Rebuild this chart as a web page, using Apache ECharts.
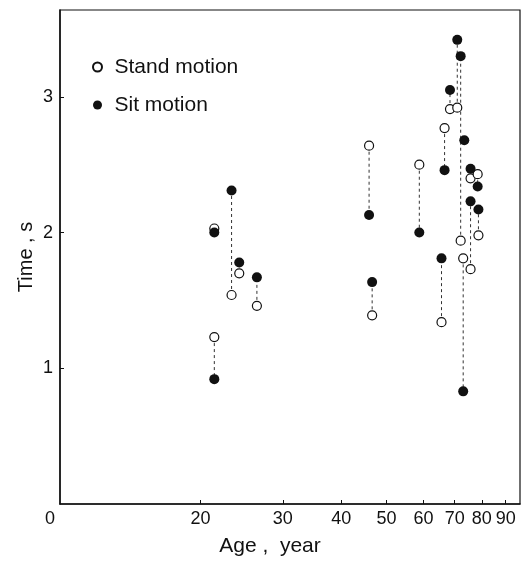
<!DOCTYPE html>
<html>
<head>
<meta charset="utf-8">
<script src="https://cdn.jsdelivr.net/npm/echarts@6/dist/echarts.min.js"></script>
<style>
html,body{margin:0;padding:0;background:#fff;}
#chart{width:522px;height:562px;}
</style>
</head>
<body>
<div id="chart"></div>
<script>
// Subjects: age (years), stand-motion time (s), sit-motion time (s)
const ages       = [21.4, 21.4, 23.3, 24.2, 26.4, 45.9, 46.6, 58.8, 65.6, 66.6, 68.4, 70.9, 72.1, 73.0, 73.4, 75.7, 75.7, 78.4, 78.7];
const standTimes = [2.03, 1.23, 1.54, 1.70, 1.46, 2.64, 1.39, 2.50, 1.34, 2.77, 2.91, 2.92, 1.94, 1.81, null, 2.40, 1.73, 2.43, 1.98];
const sitTimes   = [2.00, 0.92, 2.31, 1.78, 1.67, 2.13, 1.635, 2.00, 1.81, 2.46, 3.05, 3.42, 3.30, 0.83, 2.68, 2.47, 2.23, 2.34, 2.17];
const xTickValues = [10, 20, 30, 40, 50, 60, 70, 80, 90];
const yTickValues = [0, 1, 2, 3];
const seriesNames = ['Stand motion', 'Sit motion'];

const FONT = 'Liberation Sans';
const standData = ages.map((a, i) => [a, standTimes[i]]).filter(d => d[1] != null);
const sitData = ages.map((a, i) => [a, sitTimes[i]]).filter(d => d[1] != null);
const pairData = ages.map((a, i) => [a, standTimes[i] == null ? '-' : standTimes[i], sitTimes[i]]);

const chart = echarts.init(document.getElementById('chart'), null, {renderer: 'canvas'});
chart.setOption({
  animation: false,
  backgroundColor: '#fff',
  grid: {left: 60, right: 2, top: 10, bottom: 55, show: true, borderColor: '#111', borderWidth: 1.2, backgroundColor: 'transparent'},
  legend: {
    orient: 'vertical', left: 87, top: 51, itemGap: 16,
    itemWidth: 24, itemHeight: 9,
    icon: 'circle',
    textStyle: {fontFamily: FONT, fontSize: 21, color: '#111', lineHeight: 22},
    data: seriesNames
  },
  xAxis: {
    type: 'log', logBase: 10, min: 10, max: 96.6,
    name: 'Age ,  year', nameLocation: 'middle', nameGap: 32, nameMoveOverlap: false,
    nameTextStyle: {fontFamily: FONT, fontSize: 21, color: '#111', padding: [0, 40, 0, 0]},
    axisLine: {show: true, lineStyle: {color: '#111', width: 1.5}},
    axisTick: {show: true, inside: true, length: 4, lineStyle: {color: '#111'}, customValues: xTickValues.slice(1)},
    axisLabel: {
      fontFamily: FONT, fontSize: 18, color: '#111', margin: 6,
      customValues: xTickValues,
      formatter: v => { const r = Math.round(v); return r === 10 ? '{z|0}' : String(r); },
      rich: {z: {fontFamily: FONT, fontSize: 18, color: '#111', padding: [0, 20, 0, 0]}}
    },
    splitLine: {show: false}, minorTick: {show: false}
  },
  yAxis: {
    type: 'value', min: 0, max: 3.64, interval: 1,
    name: 'Time , s', nameLocation: 'middle', nameGap: 24, nameRotate: 90, nameMoveOverlap: false,
    nameTextStyle: {fontFamily: FONT, fontSize: 20, color: '#111'},
    axisLine: {show: true, lineStyle: {color: '#111', width: 1.5}},
    axisTick: {show: true, inside: true, length: 4, lineStyle: {color: '#111'}, customValues: yTickValues.slice(1)},
    axisLabel: {
      fontFamily: FONT, fontSize: 18, color: '#111', margin: 7,
      customValues: yTickValues.slice(1),
      formatter: v => String(Math.round(v))
    },
    splitLine: {show: false}
  },
  series: [
    {
      type: 'custom', name: 'pairs', silent: true, z: 1,
      encode: {x: 0, y: [1, 2]},
      data: pairData,
      renderItem: function (params, api) {
        const a = api.value(0), s = api.value(1), t = api.value(2);
        if (s == null || isNaN(s) || isNaN(t)) return null;
        const p1 = api.coord([a, s]);
        const p2 = api.coord([a, t]);
        return {type: 'line', shape: {x1: p1[0], y1: p1[1], x2: p2[0], y2: p2[1]},
                style: {stroke: '#333', lineWidth: 1, lineDash: [3, 3]}};
      }
    },
    {
      type: 'scatter', name: seriesNames[0], z: 2,
      symbol: 'circle', symbolSize: 9,
      itemStyle: {color: '#fff', borderColor: '#111', borderWidth: 1.2, opacity: 1},
      data: standData
    },
    {
      type: 'scatter', name: seriesNames[1], z: 3,
      symbol: 'circle', symbolSize: 10,
      itemStyle: {color: '#111', opacity: 1},
      data: sitData
    }
  ]
});
</script>
</body>
</html>
